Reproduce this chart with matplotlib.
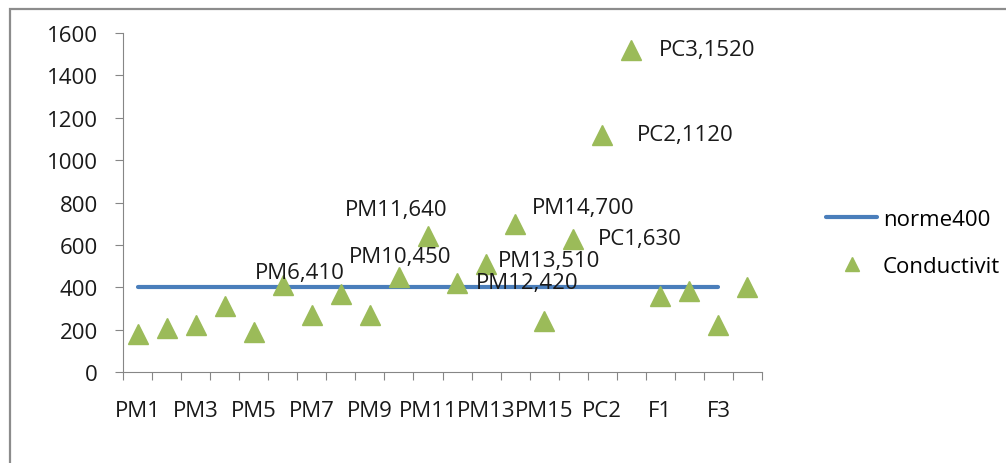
import numpy as np
import matplotlib
matplotlib.use("Agg")
import matplotlib.pyplot as plt
from matplotlib.patches import Rectangle

plt.rcParams['font.family'] = ['Open Sans', 'DejaVu Sans']

# categories (sites)
sites = ['PM1', 'PM2', 'PM3', 'PM4', 'PM5', 'PM6', 'PM7', 'PM8', 'PM9', 'PM10',
         'PM11', 'PM12', 'PM13', 'PM14', 'PM15', 'PC1', 'PC2', 'PC3',
         'F1', 'F2', 'F3', 'F4']
# conductivity values
conductivit = [180, 210, 220, 310, 190, 410, 270, 370, 270, 450,
               640, 420, 510, 700, 240, 630, 1120, 1520,
               360, 380, 220, 400]
# norm line (PM1 .. F3)
norme400 = [400, 400, 400, 400, 400, 400, 400, 400, 400, 400,
            400, 400, 400, 400, 400, 400, 400, 400, 400, 400, 400]
# sites that carry a data label
labelled = ['PM6', 'PM10', 'PM11', 'PM12', 'PM13', 'PM14', 'PC1', 'PC2', 'PC3']
yticks = [0, 200, 400, 600, 800, 1000, 1200, 1400, 1600]

# label placement (offset in pixels, horizontal alignment)
label_pos = {
    'PM6': (17, 13, 'center'), 'PM10': (1, 20, 'center'), 'PM11': (-32, 27, 'center'),
    'PM12': (19, 1, 'left'), 'PM13': (12, 3, 'left'), 'PM14': (17, 16, 'left'),
    'PC1': (25, 0, 'left'), 'PC2': (35, 0, 'left'), 'PC3': (28, 0, 'left'),
}

FS = 16
TXT = '#1a1a1a'
W, H = 1006, 464
fig = plt.figure(figsize=(W / 100, H / 100), dpi=100)
ax = fig.add_axes([123 / W, (H - 373) / H, (762 - 123) / W, (373 - 34) / H])

x = np.arange(len(sites))
ax.plot(np.arange(len(norme400)), norme400, color='#4A7EBB', lw=3,
        solid_capstyle='round', label='norme400')
ax.plot(x, conductivit, ls='none', marker='^', ms=14, color='#9BBB59',
        mec='#9BBB59', label='Conductivit', zorder=3)

for s in labelled:
    i = sites.index(s)
    dx, dy, ha = label_pos[s]
    ax.annotate(f'{s},{conductivit[i]}', (i, conductivit[i]), xytext=(dx, dy),
                textcoords='offset pixels', ha=ha, va='center', fontsize=FS,
                color=TXT, zorder=4)

ax.set_xlim(-0.5, len(sites) - 0.5)
ax.set_ylim(0, 1600)
ax.set_yticks(yticks)
ax.set_xticks(np.arange(-0.5, len(sites), 1))
ax.set_xticklabels([])
ax.set_xticks(x[::2], minor=True)
ax.set_xticklabels(sites[::2], minor=True)

for sp in ['top', 'right']:
    ax.spines[sp].set_visible(False)
for sp in ['left', 'bottom']:
    ax.spines[sp].set_color('#868686')
ax.tick_params(axis='both', which='major', direction='out', length=6,
               color='#868686', labelsize=FS, labelcolor=TXT)
ax.tick_params(axis='y', pad=12)
ax.tick_params(axis='x', which='minor', length=0, pad=20, labelsize=FS,
               labelcolor=TXT)

ax.legend(loc='center left', bbox_to_anchor=(815 / W, (H - 244) / H),
          bbox_transform=fig.transFigure, frameon=False, fontsize=FS,
          handlelength=2.3, handletextpad=0.25, labelspacing=1.15, borderpad=0,
          markerscale=0.7)

fig.add_artist(Rectangle((10 / W, -0.1), 1.2, (H - 10) / H + 0.1,
                         transform=fig.transFigure, fill=False,
                         ec='#8c8c8c', lw=1.6))

fig.savefig('out.png', dpi=100)
